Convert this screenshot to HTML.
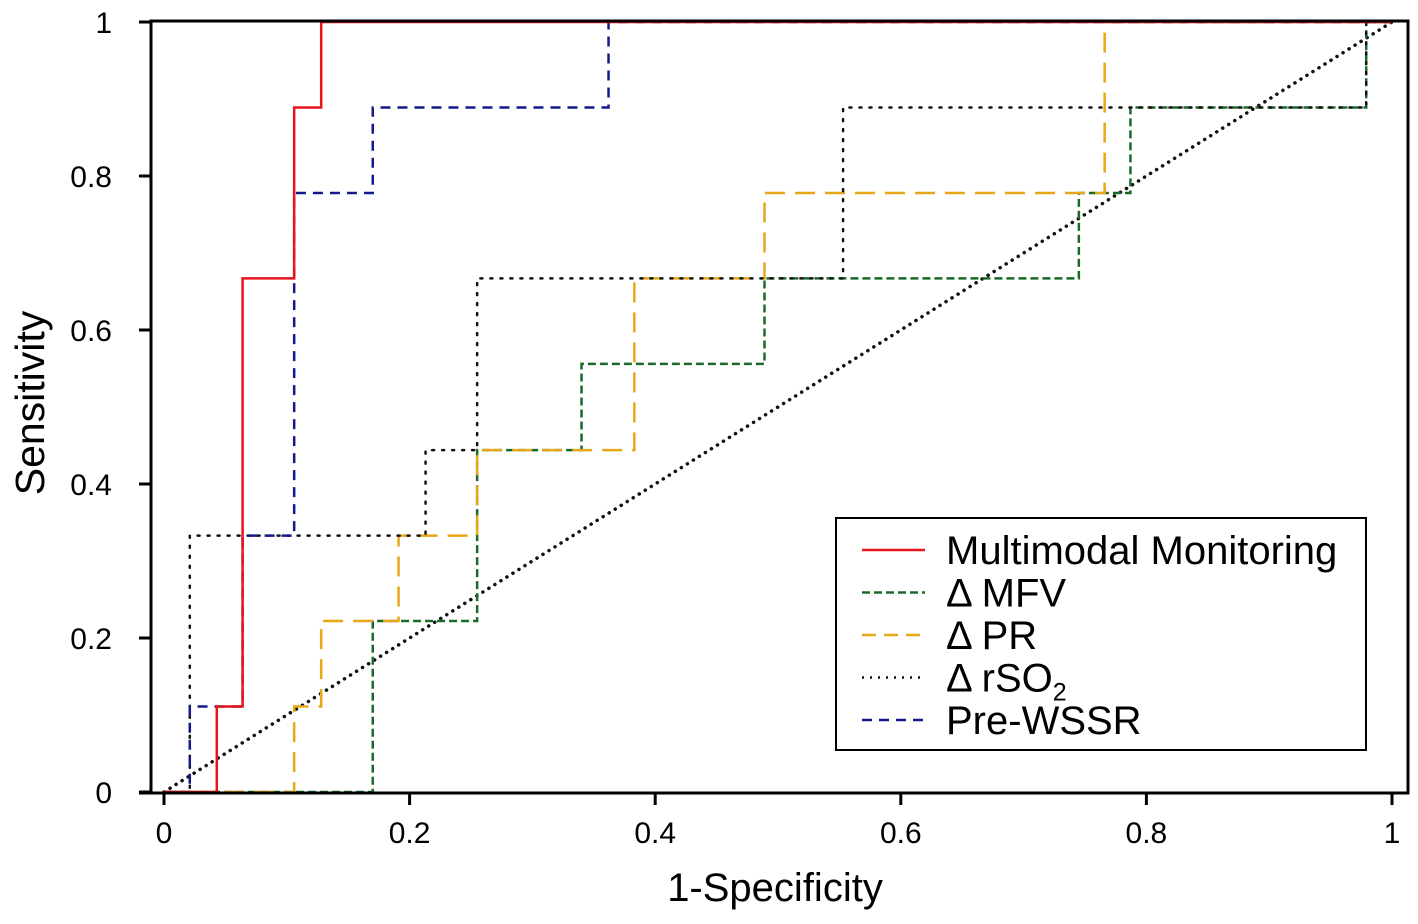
<!DOCTYPE html>
<html><head><meta charset="utf-8">
<style>
html,body{margin:0;padding:0;background:#fff;}
svg{display:block;}
text{font-family:"Liberation Sans",Arial,sans-serif;fill:#000;}
</style></head>
<body>
<svg id="chart" width="1418" height="924" viewBox="0 0 1418 924" xmlns="http://www.w3.org/2000/svg">
  <g id="series"></g>
  <rect x="151" y="21" width="1257" height="772" fill="none" stroke="#000" stroke-width="3"/>
  <g id="axes"></g>
  <text transform="translate(44,403) rotate(-90)" text-anchor="middle" font-size="41">Sensitivity</text>
  <text x="775" y="901" text-anchor="middle" font-size="40">1-Specificity</text>
  <g>
    <rect x="836" y="518" width="530" height="232" fill="#fff" stroke="#000" stroke-width="2"/>
    <g id="legend-items"></g>
  </g>
</svg>
<script>
const seriesNames = ["Multimodal Monitoring","Δ MFV","Δ PR","Δ rSO2","Pre-WSSR"];
const mmX = [0,0.043,0.043,0.064,0.064,0.106,0.106,0.128,0.128,1];
const mmY = [0,0,0.111,0.111,0.667,0.667,0.889,0.889,1,1];
const mfvX = [0,0.17,0.17,0.255,0.255,0.34,0.34,0.489,0.489,0.745,0.745,0.787,0.787,0.979,0.979,1];
const mfvY = [0,0,0.222,0.222,0.444,0.444,0.556,0.556,0.667,0.667,0.778,0.778,0.889,0.889,1,1];
const prX = [0,0.106,0.106,0.128,0.128,0.191,0.191,0.255,0.255,0.383,0.383,0.489,0.489,0.766,0.766,1];
const prY = [0,0,0.111,0.111,0.222,0.222,0.333,0.333,0.444,0.444,0.667,0.667,0.778,0.778,1,1];
const rsoX = [0,0.021,0.021,0.213,0.213,0.255,0.255,0.553,0.553,0.979,0.979,1];
const rsoY = [0,0,0.333,0.333,0.444,0.444,0.667,0.667,0.889,0.889,1,1];
const wssrX = [0,0.021,0.021,0.064,0.064,0.106,0.106,0.17,0.17,0.362,0.362,1];
const wssrY = [0,0,0.111,0.111,0.333,0.333,0.778,0.778,0.889,0.889,1,1];
const refX = [0,1];
const refY = [0,1];
const xTicks = [0,0.2,0.4,0.6,0.8,1];
const yTicks = [0,0.2,0.4,0.6,0.8,1];
const xTickLabels = ["0","0.2","0.4","0.6","0.8","1"];
const yTickLabels = ["0","0.2","0.4","0.6","0.8","1"];

const NS = "http://www.w3.org/2000/svg";
function sx(v){ return 164 + v*1228; }
function sy(v){ return 792 - v*770; }

const styles = [
  {c:"#e8141c", d:"", w:2.5},
  {c:"#1a6b2a", d:"8 4", w:2.5},
  {c:"#e6a817", d:"20 10", w:2.5},
  {c:"#111", d:"2 8", w:2.5},
  {c:"#141a8c", d:"10 7", w:2.5}
];
const seriesX = [mmX,mfvX,prX,rsoX,wssrX];
const seriesY = [mmY,mfvY,prY,rsoY,wssrY];
const keys = ["multimodal","mfv","pr","rso2","pre-wssr"];
const sg = document.getElementById("series");

function poly(xs, ys, st){
  const p = document.createElementNS(NS,"polyline");
  p.setAttribute("points", xs.map((x,i)=>sx(x)+","+sy(ys[i])).join(" "));
  p.setAttribute("fill","none");
  p.setAttribute("stroke",st.c);
  p.setAttribute("stroke-width",st.w);
  if(st.d) p.setAttribute("stroke-dasharray",st.d);
  if(st.d==="2 8") p.setAttribute("stroke-linecap","round");
  return p;
}
const ref = poly(refX, refY, {c:"#111", d:"0.1 7", w:3.5});
ref.setAttribute("stroke-linecap","round");


sg.appendChild(ref);
const order = [1,2,3,4,0];
order.forEach(i=>{
  const p = poly(seriesX[i], seriesY[i], styles[i]);
  
  
  sg.appendChild(p);
});

const ax = document.getElementById("axes");
xTicks.forEach((t,i)=>{
  const l = document.createElementNS(NS,"line");
  l.setAttribute("x1",sx(t)); l.setAttribute("x2",sx(t));
  l.setAttribute("y1",793); l.setAttribute("y2",805);
  l.setAttribute("stroke","#000"); l.setAttribute("stroke-width","3");
  
  
  ax.appendChild(l);
  const tx = document.createElementNS(NS,"text");
  tx.setAttribute("x",sx(t)); tx.setAttribute("y",843);
  tx.setAttribute("text-anchor","middle"); tx.setAttribute("font-size","30");
  tx.textContent = xTickLabels[i];
  
  
  ax.appendChild(tx);
});
yTicks.forEach((t,i)=>{
  const l = document.createElementNS(NS,"line");
  l.setAttribute("x1",139); l.setAttribute("x2",151);
  l.setAttribute("y1",sy(t)); l.setAttribute("y2",sy(t));
  l.setAttribute("stroke","#000"); l.setAttribute("stroke-width","3");
  
  
  ax.appendChild(l);
  const tx = document.createElementNS(NS,"text");
  tx.setAttribute("x",112); tx.setAttribute("y",sy(t)+11);
  tx.setAttribute("text-anchor","end"); tx.setAttribute("font-size","30");
  tx.textContent = yTickLabels[i];
  
  
  ax.appendChild(tx);
});
const base = document.createElementNS(NS,"line");
base.setAttribute("x1",139); base.setAttribute("x2",151);
base.setAttribute("y1",793); base.setAttribute("y2",793);
base.setAttribute("stroke","#000"); base.setAttribute("stroke-width","3");


ax.appendChild(base);

const lg = document.getElementById("legend-items");
seriesNames.forEach((n,i)=>{
  const y = 550 + i*42.5;
  const l = document.createElementNS(NS,"line");
  l.setAttribute("x1",862); l.setAttribute("x2",925);
  l.setAttribute("y1",y); l.setAttribute("y2",y);
  l.setAttribute("stroke",styles[i].c); l.setAttribute("stroke-width","2.5");
  if(styles[i].d) l.setAttribute("stroke-dasharray", i===3 ? "2 6" : (i===2 ? "14 8" : styles[i].d));
  
  
  lg.appendChild(l);
  const tx = document.createElementNS(NS,"text");
  tx.setAttribute("x",946); tx.setAttribute("y",y+14);
  tx.setAttribute("font-size","40");
  if(n==="Δ rSO2"){
    tx.textContent = "Δ rSO";
    const sub = document.createElementNS(NS,"tspan");
    sub.setAttribute("font-size","25"); sub.setAttribute("dy","9");
    sub.textContent = "2";
    tx.appendChild(sub);
  } else tx.textContent = n;
  
  
  lg.appendChild(tx);
});
</script>
</body></html>
